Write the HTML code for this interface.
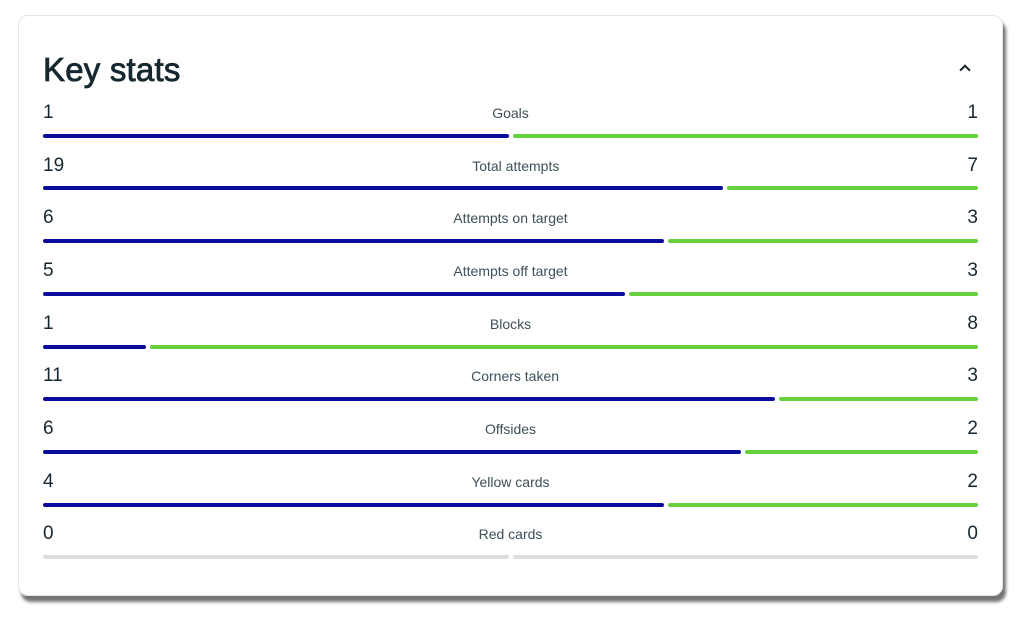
<!DOCTYPE html>
<html>
<head>
<meta charset="utf-8">
<style>
  html,body{margin:0;padding:0;background:#fff;}
  body{width:1024px;height:617px;position:relative;overflow:hidden;font-family:"Liberation Sans",sans-serif;}
  .card{position:absolute;left:18px;top:15px;width:983px;height:579px;border:1px solid #e4e4e4;border-radius:10px;background:#fff;box-shadow:3px 6px 3px rgba(0,0,0,0.55);}
  .title{position:absolute;left:43px;top:53px;font-size:33px;line-height:33px;color:#16282f;-webkit-text-stroke:0.8px #16282f;letter-spacing:0.2px;}
  .chev{position:absolute;left:961px;top:66px;width:8px;height:8px;border-left:2px solid #16282f;border-top:2px solid #16282f;transform:rotate(45deg);transform-origin:center;box-sizing:border-box;}
  .row{position:absolute;left:43px;width:935px;height:19px;display:flex;justify-content:space-between;align-items:baseline;line-height:19px;}
  .num{font-size:19px;color:#16282f;}
  .lab{font-size:14px;color:#3e505a;}
  .bar{position:absolute;height:4px;border-radius:2px;}
  .b{background:#0b0b9c;}
  .g{background:#66d13c;}
  .z{background:#dddddd;}
</style>
</head>
<body>
<div class="card"></div>
<div class="title">Key stats</div>
<div class="chev"></div>

<div class="row" style="top:103px"><span class="num">1</span><span class="lab">Goals</span><span class="num">1</span></div>
<div class="bar b" style="left:43px;top:134px;width:466px"></div>
<div class="bar g" style="left:513px;top:134px;width:465px"></div>

<div class="row" style="top:156px"><span class="num">19</span><span class="lab">Total attempts</span><span class="num">7</span></div>
<div class="bar b" style="left:43px;top:186px;width:680px"></div>
<div class="bar g" style="left:727px;top:186px;width:251px"></div>

<div class="row" style="top:208px"><span class="num">6</span><span class="lab">Attempts on target</span><span class="num">3</span></div>
<div class="bar b" style="left:43px;top:239px;width:621px"></div>
<div class="bar g" style="left:668px;top:239px;width:310px"></div>

<div class="row" style="top:261px"><span class="num">5</span><span class="lab">Attempts off target</span><span class="num">3</span></div>
<div class="bar b" style="left:43px;top:292px;width:582px"></div>
<div class="bar g" style="left:629px;top:292px;width:349px"></div>

<div class="row" style="top:314px"><span class="num">1</span><span class="lab">Blocks</span><span class="num">8</span></div>
<div class="bar b" style="left:43px;top:345px;width:103px"></div>
<div class="bar g" style="left:150px;top:345px;width:828px"></div>

<div class="row" style="top:366px"><span class="num">11</span><span class="lab">Corners taken</span><span class="num">3</span></div>
<div class="bar b" style="left:43px;top:397px;width:732px"></div>
<div class="bar g" style="left:779px;top:397px;width:199px"></div>

<div class="row" style="top:419px"><span class="num">6</span><span class="lab">Offsides</span><span class="num">2</span></div>
<div class="bar b" style="left:43px;top:450px;width:698px"></div>
<div class="bar g" style="left:745px;top:450px;width:233px"></div>

<div class="row" style="top:472px"><span class="num">4</span><span class="lab">Yellow cards</span><span class="num">2</span></div>
<div class="bar b" style="left:43px;top:503px;width:621px"></div>
<div class="bar g" style="left:668px;top:503px;width:310px"></div>

<div class="row" style="top:524px"><span class="num">0</span><span class="lab">Red cards</span><span class="num">0</span></div>
<div class="bar z" style="left:43px;top:555px;width:466px"></div>
<div class="bar z" style="left:513px;top:555px;width:465px"></div>
</body>
</html>
